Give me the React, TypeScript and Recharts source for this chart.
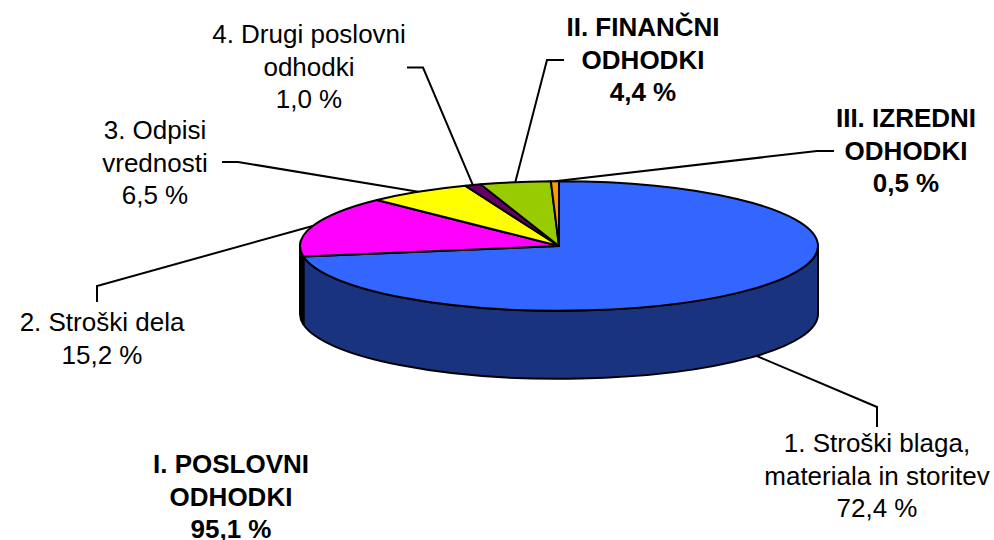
import { Pie, PieChart } from 'recharts'

const sliceNames = [
  '1. Stroški blaga, materiala in storitev',
  '2. Stroški dela',
  '3. Odpisi vrednosti',
  '4. Drugi poslovni odhodki',
  'II. FINANČNI ODHODKI',
  'III. IZREDNI ODHODKI',
]
const sliceValues = [72.4, 15.2, 6.5, 1.0, 4.4, 0.5]
const sliceColors = ['#3366ff', '#ff00ff', '#ffff00', '#660066', '#99cc00', '#ff9900']
const sideColors = ['#1a337f', '#000000', '#7f7f00', '#330033', '#4c6600', '#7f4c00']

const labelLines = [
  ['1. Stroški blaga,', 'materiala in storitev', '72,4 %'],
  ['2. Stroški dela', '15,2 %'],
  ['3. Odpisi', 'vrednosti', '6,5 %'],
  ['4. Drugi poslovni', 'odhodki', '1,0 %'],
  ['II. FINANČNI', 'ODHODKI', '4,4 %'],
  ['III. IZREDNI', 'ODHODKI', '0,5 %'],
]
const groupLabel = ['I. POSLOVNI', 'ODHODKI', '95,1 %']

// label block centre + first baseline, and the leader's elbow points
const labelPos = [
  { x: 877, y: 452, leader: [[877, 407], [877, 427]] },
  { x: 102, y: 331, leader: [[97, 286], [97, 302]] },
  { x: 155, y: 139, leader: [[238, 162], [222, 162]] },
  { x: 309, y: 43, leader: [[423, 67.5], [407, 67.5]] },
  { x: 643, y: 36, leader: [[547, 60], [564, 60]] },
  { x: 906, y: 127, leader: [[817, 151], [834, 151]] },
]

const CX = 559
const CY = 246
const RADIUS_X = 259
const SQUASH = 0.25
const DEPTH = 68
const LINE_HEIGHT = 32.7
const RAD = Math.PI / 180
const FONT = '"Liberation Sans", Arial, sans-serif'

const chartData = sliceNames.map((name, i) => ({
  name,
  value: sliceValues[i],
  fill: sliceColors[i],
  side: sideColors[i],
}))

const ex = (cx: number, r: number, a: number) => cx + r * Math.cos(a * RAD)
const ey = (cy: number, r: number, a: number) => cy - SQUASH * r * Math.sin(a * RAD)

// one slice as an elliptical wedge, with its rim where it faces the viewer
function SliceShape(props: any) {
  const { cx, cy, outerRadius: r, startAngle, endAngle, payload } = props
  const hi = Math.max(startAngle, endAngle)
  const lo = Math.min(startAngle, endAngle)
  const ry = r * SQUASH
  const large = hi - lo > 180 ? 1 : 0
  const top = `M${cx},${cy} L${ex(cx, r, hi)},${ey(cy, r, hi)} A${r},${ry} 0 ${large} 1 ${ex(cx, r, lo)},${ey(cy, r, lo)} Z`

  // front half of the ellipse is 180..360 (and -180..0)
  const ranges: [number, number][] = []
  for (const [a, b] of [[-180, 0], [180, 360]]) {
    const s = Math.max(lo, a)
    const e = Math.min(hi, b)
    if (e > s) ranges.push([s, e])
  }

  return (
    <g>
      {ranges.map(([s, e], i) => (
        <path
          key={i}
          d={`M${ex(cx, r, s)},${ey(cy, r, s)} A${r},${ry} 0 0 0 ${ex(cx, r, e)},${ey(cy, r, e)} L${ex(cx, r, e)},${ey(cy, r, e) + DEPTH} A${r},${ry} 0 0 1 ${ex(cx, r, s)},${ey(cy, r, s) + DEPTH} Z`}
          fill={payload.side}
          stroke="#000"
          strokeWidth={2}
          strokeLinejoin="round"
        />
      ))}
      <path d={top} fill={payload.fill} stroke="#000" strokeWidth={2} strokeLinejoin="round" />
    </g>
  )
}

function TextBlock({ x, y, lines, bold }: { x: number; y: number; lines: string[]; bold?: boolean }) {
  return (
    <text
      x={x}
      y={y}
      textAnchor="middle"
      fontFamily={FONT}
      fontSize={26}
      fontWeight={bold ? 700 : 400}
      fill="#000"
    >
      {lines.map((line, i) => (
        <tspan key={i} x={x} y={y + i * LINE_HEIGHT}>
          {line}
        </tspan>
      ))}
    </text>
  )
}

// leader starts on the slice's mid angle, on the rim for the front slice
function SliceLabel(props: any) {
  const { cx, cy, outerRadius: r, midAngle, index } = props
  const pos = labelPos[index]
  const front = Math.sin(midAngle * RAD) < 0
  const start = [ex(cx, r, midAngle), ey(cy, r, midAngle) + (front ? DEPTH : 0)]
  const points = [start, ...pos.leader].map((p) => p.join(',')).join(' ')
  return (
    <g>
      <polyline points={points} fill="none" stroke="#000" strokeWidth={2} />
      <TextBlock x={pos.x} y={pos.y} lines={labelLines[index]} bold={index >= 4} />
    </g>
  )
}

export default function App() {
  return (
    <div style={{ position: 'absolute', left: 0, top: 0, width: 994, height: 540, background: '#fff' }}>
      <PieChart width={994} height={540} margin={{ top: 0, right: 0, bottom: 0, left: 0 }}>
        <Pie
          data={chartData}
          dataKey="value"
          nameKey="name"
          cx={CX}
          cy={CY}
          innerRadius={0}
          outerRadius={RADIUS_X}
          startAngle={90}
          endAngle={-270}
          paddingAngle={0}
          shape={SliceShape}
          label={SliceLabel}
          labelLine={false}
          isAnimationActive={false}
        />
        <TextBlock x={231} y={473} lines={groupLabel} bold />
      </PieChart>
    </div>
  )
}
